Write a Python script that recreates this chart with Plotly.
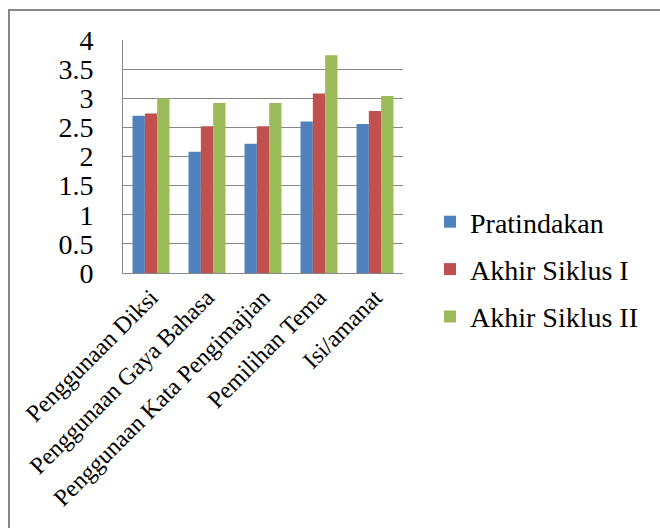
import plotly.graph_objects as go

categories = ["Penggunaan Diksi", "Penggunaan Gaya Bahasa", "Penggunaan Kata Pengimajian",
              "Pemilihan Tema", "Isi/amanat"]
pratindakan = [2.70, 2.08, 2.22, 2.60, 2.56]
akhir_siklus_1 = [2.74, 2.52, 2.52, 3.08, 2.78]
akhir_siklus_2 = [3.00, 2.92, 2.92, 3.74, 3.04]
series_names = ["Pratindakan", "Akhir Siklus I", "Akhir Siklus II"]
colors = ["#4F81BD", "#C0504D", "#9BBB59"]
y_ticks = [0, 0.5, 1, 1.5, 2, 2.5, 3, 3.5, 4]

FONT = "Times New Roman"

fig = go.Figure()
for i, (name, vals) in enumerate(zip(series_names, [pratindakan, akhir_siklus_1, akhir_siklus_2])):
    fig.add_trace(go.Bar(x=categories, y=vals, name=name, marker_color=colors[i],
                         marker_line_width=0, legendgroup=f"g{i}"))

L, R, T, B = 123, 257, 40, 255
W, H = 660, 528
pw, ph = W - L - R, H - T - B

fig.update_layout(
    width=W, height=H,
    margin=dict(l=L, r=R, t=T, b=B, autoexpand=False),
    paper_bgcolor="white", plot_bgcolor="white",
    barmode="group", bargap=0.34, bargroupgap=0,
    font=dict(family=FONT, color="black"),
    showlegend=True,
    legend=dict(x=(430 - L) / pw, xanchor="left", y=(T + ph - 197) / ph, yanchor="top",
                font=dict(size=28, family=FONT, color="black"), tracegroupgap=8,
                bgcolor="rgba(0,0,0,0)", itemwidth=30),
    xaxis=dict(showgrid=False, showline=True, linecolor="#868686", linewidth=1, automargin=False,
               tickangle=-45, tickfont=dict(size=24, family=FONT, color="black"), ticks=""),
    yaxis=dict(range=[0, 4], tickvals=y_ticks, showgrid=True, gridcolor="#868686", gridwidth=1,
               showline=True, linecolor="#868686", linewidth=1, automargin=False,
               ticks="outside", ticklen=23, tickcolor="rgba(0,0,0,0)",
               tickfont=dict(size=28, family=FONT, color="black"),
               zeroline=False),
    shapes=[dict(type="rect", xref="paper", yref="paper",
                 x0=(9 - L) / pw, x1=(W + 20 - L) / pw,
                 y0=(T + ph - (H + 20)) / ph, y1=(T + ph - 10) / ph,
                 line=dict(color="#878787", width=2), fillcolor="rgba(0,0,0,0)", layer="below")],
)

fig.write_html("out.html")
